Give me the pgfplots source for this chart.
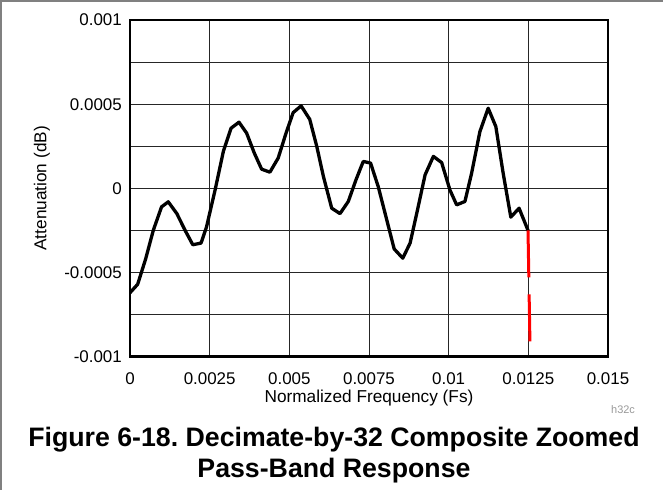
\documentclass[border=0pt]{standalone}
\usepackage{fontspec}
\setmainfont{Liberation Sans}
\usepackage{pgfplots}
\pgfplotsset{compat=1.18}
\frenchspacing

\begin{document}
\begin{tikzpicture}
\useasboundingbox (0,0) rectangle (663bp,490bp);
% page frame (top and left only)
\draw[black!50, line width=2bp] (0,489bp) -- (663bp,489bp);
\draw[black!50, line width=2bp] (1bp,0) -- (1bp,490bp);
\begin{axis}[
    at={(130bp,133.3bp)}, anchor=south west,
    width=478bp, height=336.7bp, scale only axis,
    xmin=0, xmax=0.015,
    ymin=-0.001, ymax=0.001,
    xtick={0,0.0025,0.005,0.0075,0.01,0.0125,0.015},
    xticklabels={0,0.0025,0.005,0.0075,0.01,0.0125,0.015},
    ytick={-0.001,-0.0005,0,0.0005,0.001},
    yticklabels={-0.001,-0.0005,0,0.0005,0.001},
    minor ytick={-0.00075,-0.00025,0.00025,0.00075},
    scaled x ticks=false, scaled y ticks=false,
    grid=both,
    major grid style={black!85, line width=0.9bp},
    minor grid style={black!85, line width=0.9bp},
    major tick length=0pt, minor tick length=0pt,
    axis line style={line width=2.8bp},
    ticklabel style={font=\fontsize{17}{19}\selectfont},
    xticklabel style={anchor=base, inner sep=0pt, yshift=-27.6bp},
    yticklabel style={anchor=east, inner sep=0pt, xshift=-8bp},
    xlabel={Normalized Frequency (Fs)},
    ylabel={Attenuation (dB)},
    label style={font=\fontsize{17.3}{19}\selectfont},
    xlabel style={at={(axis description cs:0.5,-0.136)}, anchor=base, inner sep=0pt},
    ylabel style={at={(axis description cs:-0.1841,0.5)}, anchor=center, inner sep=0pt},
]
% composite pass-band response
\addplot[black, line width=3.3bp, line join=round, line cap=round] coordinates {
    (0,-0.00062) (0.00024,-0.00057) (0.00049,-0.00042) (0.00073,-0.00025)
    (0.00099,-0.00011) (0.0012,-0.00008) (0.00147,-0.00015) (0.00173,-0.00025)
    (0.00197,-0.000335) (0.00223,-0.000325) (0.0024,-0.00023) (0.00267,-0.00001)
    (0.00293,0.00022) (0.00317,0.000357) (0.00342,0.000393) (0.00366,0.000328)
    (0.0039,0.00021) (0.00413,0.000114) (0.00439,0.000096) (0.00465,0.00018)
    (0.0049,0.00033) (0.00512,0.00045) (0.00537,0.00049) (0.00564,0.00041)
    (0.00586,0.00025) (0.00607,0.00007) (0.00633,-0.000118) (0.00659,-0.00015)
    (0.00685,-0.000078) (0.00709,0.00005) (0.00732,0.00016) (0.00755,0.00015)
    (0.00779,0.00001) (0.00803,-0.000167) (0.00829,-0.00036) (0.00856,-0.000415)
    (0.00879,-0.000325) (0.009,-0.000147) (0.00926,0.00008) (0.00952,0.00019)
    (0.00978,0.000153) (0.01004,-0.00001) (0.01025,-0.000098) (0.01051,-0.000078)
    (0.01072,0.00009) (0.01098,0.000337) (0.01124,0.000476) (0.01148,0.000367)
    (0.01171,0.00009) (0.01195,-0.000171) (0.01221,-0.000118) (0.01249,-0.00025)
};
% red band-edge marker
\addplot[red, line width=3bp, dash pattern=on 47bp off 17bp] coordinates {
    (0.01249,-0.00025) (0.01255,-0.00091)
};
\end{axis}
\node[font=\fontsize{11}{12}\selectfont, text=black!40, anchor=base west, inner sep=0pt]
    at (611bp,76bp) {h32c};
\node[font=\fontsize{26.8}{30}\selectfont\bfseries, anchor=base, inner sep=0pt]
    at (334bp,43bp) {Figure 6-18. Decimate-by-32 Composite Zoomed};
\node[font=\fontsize{26.8}{30}\selectfont\bfseries, anchor=base, inner sep=0pt]
    at (334bp,13bp) {Pass-Band Response};
\end{tikzpicture}
\end{document}
